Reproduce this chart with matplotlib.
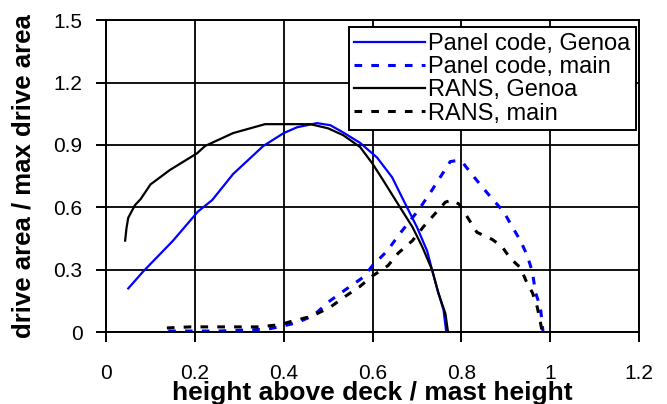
import matplotlib
matplotlib.use('Agg')
import matplotlib.pyplot as plt

plt.rcParams['font.family'] = ['Liberation Sans', 'DejaVu Sans']

# Panel code, Genoa
pg_x = [0.05, 0.083, 0.151, 0.207, 0.239, 0.286, 0.354, 0.40, 0.43, 0.475, 0.505,
        0.534, 0.572, 0.61, 0.644, 0.673, 0.70, 0.723, 0.734, 0.748, 0.76, 0.766]
pg_y = [0.21, 0.29, 0.44, 0.58, 0.635, 0.76, 0.895, 0.957, 0.985, 1.005, 0.995,
        0.96, 0.91, 0.84, 0.745, 0.62, 0.505, 0.39, 0.30, 0.19, 0.105, 0.0]

# Panel code, main
pm_x = [0.14, 0.2, 0.25, 0.32, 0.365, 0.39, 0.43, 0.467, 0.504, 0.543, 0.58, 0.60,
        0.633, 0.662, 0.703, 0.73, 0.745, 0.76, 0.775, 0.79, 0.805, 0.827, 0.85,
        0.872, 0.895, 0.915, 0.933, 0.948, 0.96, 0.967, 0.978, 0.984]
pm_y = [0.005, 0.005, 0.005, 0.01, 0.015, 0.025, 0.045, 0.08, 0.15, 0.21, 0.265, 0.32,
        0.39, 0.475, 0.585, 0.67, 0.72, 0.77, 0.82, 0.825, 0.81, 0.75, 0.69,
        0.635, 0.58, 0.505, 0.44, 0.37, 0.29, 0.19, 0.12, 0.0]

# RANS, Genoa
rg_x = [0.043, 0.046, 0.05, 0.065, 0.078, 0.10, 0.144, 0.205, 0.223, 0.286, 0.358,
        0.40, 0.46, 0.50, 0.534, 0.572, 0.60, 0.624, 0.662, 0.69, 0.712, 0.734,
        0.748, 0.764, 0.77]
rg_y = [0.44, 0.50, 0.55, 0.61, 0.64, 0.71, 0.78, 0.86, 0.895, 0.957, 1.0,
        1.0, 1.0, 0.98, 0.947, 0.89, 0.81, 0.73, 0.60, 0.505, 0.41, 0.30,
        0.19, 0.09, 0.0]

# RANS, main
rm_x = [0.137, 0.19, 0.25, 0.34, 0.39, 0.415, 0.464, 0.505, 0.536, 0.572, 0.60,
        0.635, 0.658, 0.69, 0.714, 0.741, 0.764, 0.78, 0.795, 0.813, 0.835, 0.87,
        0.892, 0.91, 0.933, 0.948, 0.96, 0.971, 0.978, 0.982]
rm_y = [0.02, 0.025, 0.025, 0.025, 0.035, 0.05, 0.077, 0.12, 0.168, 0.22, 0.27,
        0.32, 0.38, 0.44, 0.505, 0.57, 0.625, 0.635, 0.615, 0.555, 0.48, 0.445,
        0.41, 0.355, 0.31, 0.235, 0.19, 0.12, 0.048, 0.0]

x_ticks = [0, 0.2, 0.4, 0.6, 0.8, 1.0, 1.2]
x_labels = ['0', '0.2', '0.4', '0.6', '0.8', '1', '1.2']
y_ticks = [0, 0.3, 0.6, 0.9, 1.2, 1.5]
y_labels = ['0', '0.3', '0.6', '0.9', '1.2', '1.5']

fig = plt.figure(figsize=(6.67, 4.04), dpi=100)
ax = fig.add_axes([0.159, 0.178, 0.799, 0.772])

dash = (0, (2.5, 3))
ax.plot(pg_x, pg_y, color='#0000ff', lw=1.6, label='Panel code, Genoa')
ax.plot(pm_x, pm_y, color='#0000ff', lw=2.2, linestyle=dash, label='Panel code, main')
ax.plot(rg_x, rg_y, color='black', lw=1.6, label='RANS, Genoa')
ax.plot(rm_x, rm_y, color='black', lw=2.2, linestyle=dash, label='RANS, main')

ax.set_xlim(0, 1.2)
ax.set_ylim(0, 1.5)
ax.set_xticks(x_ticks)
ax.set_xticklabels(x_labels)
ax.set_yticks(y_ticks)
ax.set_yticklabels(y_labels)
ax.grid(True, color='black', lw=1.3)
ax.set_axisbelow(True)
for s in ax.spines.values():
    s.set_linewidth(1.4)
ax.tick_params(direction='out', length=7, width=1.4, labelsize=15, pad=10)
ax.tick_params(axis='x', pad=16)

ax.set_xlabel('height above deck / mast height', fontsize=19, fontweight='bold')
ax.xaxis.label.set_va('baseline')
ax.xaxis.set_label_coords(0.5, -0.218)
ax.set_ylabel('drive area / max drive area', fontsize=18.5, fontweight='bold', labelpad=13)

leg = ax.legend(loc='upper right', bbox_to_anchor=(0.994, 0.978), fontsize=17,
                frameon=True, fancybox=False, framealpha=1, handlelength=3.0,
                handletextpad=0.1, labelspacing=0.05, borderpad=0.25,
                borderaxespad=0)
leg.get_frame().set_edgecolor('black')
leg.get_frame().set_linewidth(1.4)

fig.savefig('out.png', dpi=100)
